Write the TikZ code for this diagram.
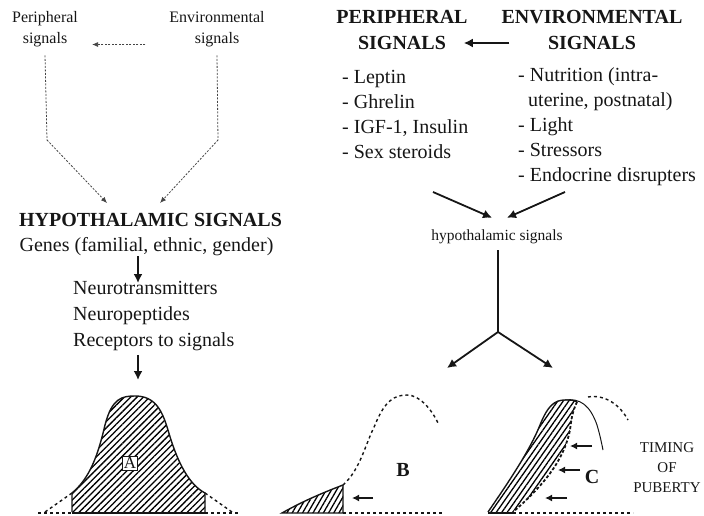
\documentclass[tikz,border=0pt]{standalone}
\usepackage{fontspec}
\setmainfont{Liberation Serif}
\usetikzlibrary{positioning,arrows.meta,patterns.meta,calc}
\definecolor{ink}{HTML}{161616}
\definecolor{faint}{HTML}{444444}
\newcommand{\caps}[1]{{\bfseries #1}}

\begin{document}
\begin{tikzpicture}[x=1pt,y=-1pt,font=\fontsize{20}{25}\selectfont,color=ink,
  small/.style={font=\fontsize{16}{21}\selectfont,align=center,inner sep=0pt},
  txt/.style={align=left,inner sep=0pt},
  dots/.style={faint,dash pattern=on 2pt off 1.5pt,line width=0.8pt,-{Latex[length=6pt,width=5pt]}},
  fat/.style={line width=1.8pt,-{Latex[length=9pt,width=9pt]}},
  curve/.style={line width=1.4pt},
  hatch/.style={pattern={Lines[angle=#1,distance=4.5pt,line width=1.3pt]}}]
\useasboundingbox (0,0) rectangle (704,515);
\node[small] (per) at (45,29.5) {Peripheral\\signals};
\node[small] (env) at (217,29.5) {Environmental\\signals};
\node[inner sep=0pt] (hyp) at (150.5,220) {\caps{HYPOTHALAMIC SIGNALS}};
\node[inner sep=0pt] (genes) at (146.5,247) {Genes (familial, ethnic, gender)};
\node[txt,font=\fontsize{20}{26}\selectfont,anchor=west] (neuro) at (73,316)
  {Neurotransmitters\\Neuropeptides\\Receptors to signals};
\coordinate (ax) at (138,0);
\coordinate (pbend) at (47,140);
\coordinate (ebend) at (218,140);
\coordinate (ptip) at (107,203);
\coordinate (etip) at (160,203);
\coordinate (atop) at (138,380);
\draw[dots] ([xshift=-24pt,yshift=-15pt]env.west) -- ([xshift=14pt,yshift=-15pt]per.east);
\draw[dots,-] ([yshift=-8pt]per.south) -- (pbend);
\draw[dots] (pbend) -- (ptip);
\draw[dots,-] ([yshift=-8pt]env.south) -- (ebend);
\draw[dots] (ebend) -- (etip);
\draw[fat] (genes.south -| ax) -- ([yshift=-2pt]neuro.north -| ax);
\draw[fat] ([yshift=-4pt]neuro.south -| ax) -- (atop);

\fill[hatch=45] (72,512) -- (72,493) .. controls (90,478) and (98,455) .. (105,425)
  .. controls (112,398) and (122,396) .. (135,396) .. controls (155,396) and (162,410) .. (168,430)
  .. controls (178,465) and (190,485) .. (205,493) -- (205,512) -- cycle;
\draw[curve] (72,512) -- (72,493) .. controls (90,478) and (98,455) .. (105,425)
  .. controls (112,398) and (122,396) .. (135,396) .. controls (155,396) and (162,410) .. (168,430)
  .. controls (178,465) and (190,485) .. (205,493) -- (205,512);
\draw[curve,dashed] (72,493) -- (45,512) (205,493) -- (232,512);
\draw[curve,dashed] (38,513) -- (72,513) (205,513) -- (240,513);
\draw[curve] (72,513) -- (205,513);
\node[draw,fill=white,line width=0.6pt,inner sep=1.5pt,font=\fontsize{17}{20}\selectfont] (a) at (130,463) {A};

\fill[hatch=60] (282,513) .. controls (305,500) and (325,492) .. (343,485) -- (343,513) -- cycle;
\draw[curve] (282,513) .. controls (305,500) and (325,492) .. (343,485) -- (343,513) -- cycle;
\draw[curve,dashed] (343,485) .. controls (360,470) and (365,445) .. (375,425)
  .. controls (385,400) and (395,395) .. (407,395) .. controls (420,395) and (432,410) .. (438,423);
\draw[curve,dashed] (343,513) -- (442,513);
\node[inner sep=0pt] (b) at (403,470) {\caps{B}};
\coordinate (bs) at (373,498);
\coordinate (be) at (352,498);
\draw[fat,line width=1.5pt,-{Latex[length=7pt,width=7pt]}] (bs) -- (be);

\fill[hatch=55] (488,512) .. controls (510,480) and (530,450) .. (540,425)
  .. controls (548,405) and (555,400) .. (565,400) .. controls (570,400) and (575,400) .. (577,402)
  .. controls (572,412) and (571,422) .. (570,430) .. controls (565,455) and (550,480) .. (513,512) -- cycle;
\draw[curve] (488,512) .. controls (510,480) and (530,450) .. (540,425)
  .. controls (548,405) and (555,400) .. (565,400) .. controls (570,400) and (575,400) .. (577,402);
\draw[curve,dash pattern=on 3pt off 2pt,line width=1.8pt] (577,402) .. controls (572,412) and (571,422) .. (570,430)
  .. controls (565,455) and (550,480) .. (513,512);
\draw[line width=1pt] (565,400) .. controls (580,398) and (590,405) .. (597,425)
  .. controls (600,435) and (602,445) .. (603,450);
\draw[curve,dashed] (588,397) .. controls (605,394) and (620,405) .. (628,420);
\draw[curve,dashed] (513,513) -- (633,513);
\draw[curve] (488,513) -- (513,513);
\node[inner sep=0pt] (c) at (592,477) {\caps{C}};
\foreach \xs/\xe/\yy in {592/570/446, 580/558/470, 567/545/498}
  \draw[fat,line width=1.5pt,-{Latex[length=7pt,width=7pt]}] (\xs,\yy) -- (\xe,\yy);
\node[small,font=\fontsize{15}{20}\selectfont] (timing) at (667,468) {TIMING\\OF\\PUBERTY};

\node[align=center,inner sep=0pt,font=\fontsize{20}{26}\selectfont\bfseries] (peri) at (402,30) {PERIPHERAL\\SIGNALS};
\node[align=center,inner sep=0pt,font=\fontsize{20}{26}\selectfont\bfseries] (envi) at (592,30) {ENVIRONMENTAL\\SIGNALS};
\coordinate (arw) at (0,43);
\draw[fat] ($(envi.west |- arw)+(8,0)$) -- ($(peri.east |- arw)+(-4,0)$);
\node[txt,anchor=west] (plist) at (342,114.5)
  {- Leptin\\- Ghrelin\\- IGF-1, Insulin\\- Sex steroids};
\node[txt,anchor=west] (elist) at (518,127)
  {- Nutrition (intra-\\\hspace*{10pt}uterine, postnatal)\\- Light\\- Stressors\\- Endocrine disrupters};
\node[small,font=\fontsize{15.5}{20}\selectfont] (hyps) at (497,237) {hypothalamic signals};
\coordinate (pl) at (433,192);
\coordinate (el) at (565,192);
\coordinate (fork) at (498,332);
\coordinate (lb) at (447,368);
\coordinate (rc) at (553,368);
\draw[fat] (pl) -- ([xshift=-5pt,yshift=12pt]hyps.north);
\draw[fat] (el) -- ([xshift=10pt,yshift=12pt]hyps.north);
\draw[line width=1.6pt] ([yshift=-6pt]hyps.south -| fork) -- (fork);
\draw[fat] (fork) -- (lb);
\draw[fat] (fork) -- (rc);
\end{tikzpicture}
\end{document}
